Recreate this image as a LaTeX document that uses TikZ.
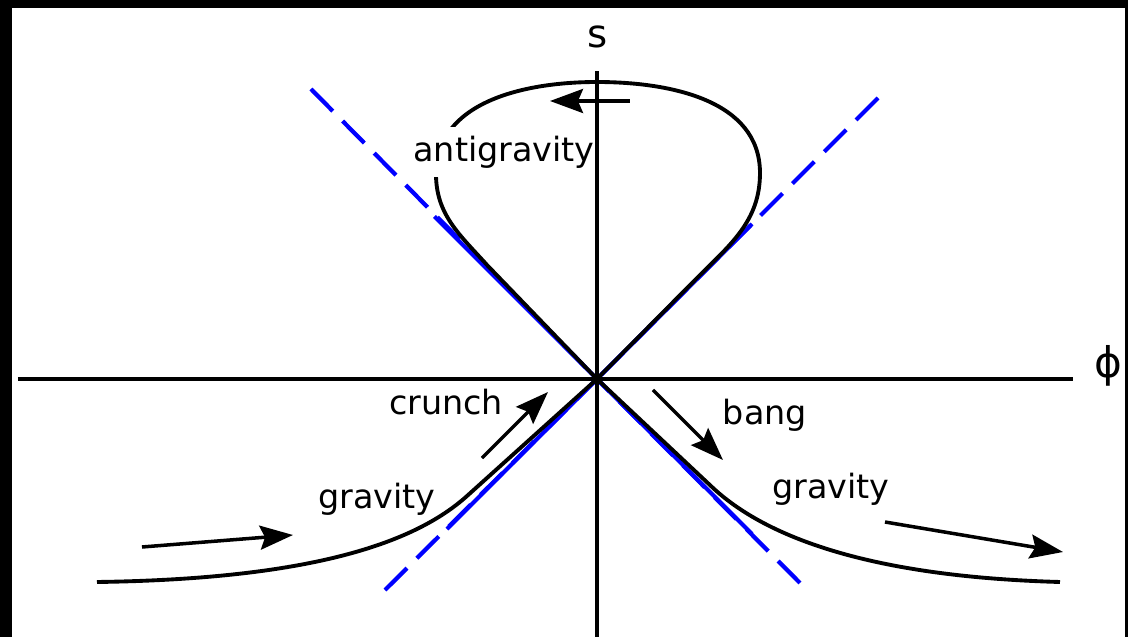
\documentclass[tikz,border=0pt]{standalone}
\usepackage{fontspec}
\setmainfont{DejaVu Sans}
\usetikzlibrary{arrows.meta}
\tikzset{
  branch/.style={line width=2.2pt,black},
  asym/.style={line width=2.4pt,blue},
  flow/.style={line width=2pt,-{Stealth[length=0.66cm,width=0.48cm,inset=0.1cm]}},
  lbl/.style={font=\fontsize{19}{22}\selectfont,inner sep=1pt},
}
\begin{document}
\begin{tikzpicture}
  % --- Frame ---
  \fill[black] (-11.94,-5.16) rectangle (10.62,7.58);
  \fill[white] (-11.70,-5.16) rectangle (10.56,7.42);
  \coordinate (O) at (0,0);
  % --- Asymptotes ---
  \draw[asym,dash pattern=on 0.62cm off 0.28cm] (-5.72,5.8) -- (O);
  \draw[asym,dash pattern=on 0.62cm off 0.28cm] (4.06,-4.08) -- (O);
  \draw[asym,dash pattern=on 0.62cm off 0.28cm] (5.62,5.62) -- (O);
  \draw[asym,dash pattern=on 0.62cm off 0.28cm] (-4.24,-4.22) -- (O);
  \draw[asym] (-3.25,3.25) -- (3.1,-3.1);
  \draw[asym] (3.1,3.1) -- (-3.0,-3.0);
  % --- Trajectory ---
  \draw[branch] (O) -- (-2.2,2.28) to[out=132,in=-90] (-3.22,4.1)
    to[out=90,in=180] (0,5.94) to[out=0,in=90] (3.26,4.12)
    to[out=-90,in=45] (2.0,2.02) -- (O);
  \draw[branch] (O) -- (-2.6,-2.34)
    .. controls (-3.6,-3.24) and (-5.6,-4.0) .. (-10.0,-4.06);
  \draw[branch] (O) -- (2.3,-2.16)
    .. controls (3.3,-3.1) and (5.3,-3.95) .. (9.26,-4.06);
  \node[lbl,fill=white,inner sep=5pt] (anti) at (-1.86,4.54) {antigravity};
  % --- Axes ---
  \draw[line width=2pt] (0,-5.16) -- (0,6.16);
  \draw[line width=2pt] (-11.58,0) -- (9.52,0);
  \node[font=\fontsize{22}{26}\selectfont] (s) at (0.02,6.84) {s};
  \node[font=\fontsize{24}{28}\selectfont] (phi) at (10.22,0.26) {ϕ};
  % --- Arrows ---
  \draw[flow] (0.66,5.56) -- (-0.94,5.56);
  \draw[flow] (-2.3,-1.58) -- (-0.98,-0.26);
  \draw[flow] (1.12,-0.22) -- (2.52,-1.62);
  \draw[flow] (-9.1,-3.36) -- (-6.08,-3.12);
  \draw[flow] (5.76,-2.86) -- (9.32,-3.46);
  % --- Labels ---
  \node[lbl] (crunch) at (-3.02,-0.46) {crunch};
  \node[lbl] (bang) at (3.36,-0.72) {bang};
  \node[lbl] (gravl) at (-4.4,-2.4) {gravity};
  \node[lbl] (gravr) at (4.68,-2.2) {gravity};
\end{tikzpicture}
\end{document}
